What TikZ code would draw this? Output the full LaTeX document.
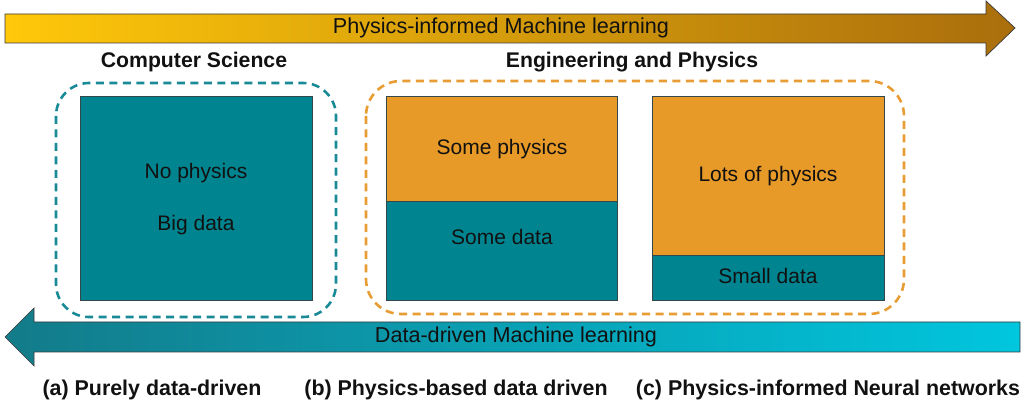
\documentclass[tikz,border=0pt]{standalone}
\usepackage{fontspec}
\setmainfont{Liberation Sans}
\usetikzlibrary{positioning}
\definecolor{tealfill}{HTML}{008590}
\definecolor{orangefill}{HTML}{E89A28}
\definecolor{tealline}{HTML}{1A8A96}
\definecolor{orangeline}{HTML}{E89C34}
\definecolor{boxedge}{HTML}{34484A}
\definecolor{arrowedge}{HTML}{3A3A3A}
\definecolor{goldL}{HTML}{FFC80A}
\definecolor{goldM}{HTML}{F7AC00}
\definecolor{goldR}{HTML}{AA6E0C}
\definecolor{cyanL}{HTML}{137B8A}
\definecolor{cyanM}{HTML}{09A3B6}
\definecolor{cyanR}{HTML}{00C6DE}
\definecolor{txt}{HTML}{111111}
\tikzset{
  tealbox/.style={draw=boxedge, line width=0.8pt, fill=tealfill, inner sep=0pt, anchor=north west},
  orangebox/.style={draw=boxedge, line width=0.8pt, fill=orangefill, inner sep=0pt, anchor=north west},
  boxtext/.style={text=txt, font=\fontsize{21}{25}\selectfont, inner sep=0pt},
  arrowtext/.style={text=txt, font=\fontsize{21.6}{25}\selectfont, inner sep=0pt},
  headtext/.style={text=txt, font=\bfseries\fontsize{21.2}{25}\selectfont, inner sep=0pt},
  captext/.style={text=txt, font=\bfseries\fontsize{21.4}{25}\selectfont, inner sep=0pt},
  tealdash/.style={draw=tealline, line width=2.6pt, dash pattern=on 8pt off 5.5pt, rounded corners=33pt},
  orangedash/.style={draw=orangeline, line width=2.6pt, dash pattern=on 8pt off 5.5pt, rounded corners=35pt},
}
\begin{document}
\begin{tikzpicture}[x=1pt,y=-1pt]
\useasboundingbox (0,0) rectangle (1023,403);
% top arrow
\path[draw=arrowedge, line width=0.7pt, left color=goldL, middle color=goldM, right color=goldR]
  (5,14) -- (986,14) -- (986,1) -- (1015,28) -- (986,56) -- (986,43) -- (5,43) -- cycle;
\node[arrowtext] (toptxt) at (501,28) {Physics-informed Machine learning};
% bottom arrow
\path[draw=arrowedge, line width=0.7pt, left color=cyanL, middle color=cyanM, right color=cyanR]
  (1020,322) -- (34,322) -- (34,308) -- (5,337) -- (34,366) -- (34,352) -- (1020,352) -- cycle;
\node[arrowtext] (bottxt) at (516,337) {Data-driven Machine learning};
% headings
\node[headtext] (cs) at (194,62) {Computer Science};
\node[headtext] (ep) at (632,62) {Engineering and Physics};
% dashed groups
\draw[tealdash] (56,83) rectangle (336,317);
\draw[orangedash] (366,81) rectangle (904,314);
% box a
\node[tealbox, minimum width=232pt, minimum height=204pt] (A) at (80,96) {};
\node[boxtext] (a1) at (196,173) {No physics};
\node[boxtext] (a2) at (196,225) {Big data};
% box b
\node[orangebox, minimum width=231pt, minimum height=105pt] (B1) at (386,96) {};
\node[tealbox, minimum width=231pt, minimum height=99pt] (B2) at (386,201) {};
\node[boxtext] (b1) at (502,149) {Some physics};
\node[boxtext] (b2) at (502,237) {Some data};
% box c
\node[orangebox, minimum width=232pt, minimum height=159pt] (C1) at (652,96) {};
\node[tealbox, minimum width=232pt, minimum height=45pt] (C2) at (652,255) {};
\node[boxtext] (c1) at (768,176) {Lots of physics};
\node[boxtext] (c2) at (768,276) {Small data};
% captions
\node[captext] (capa) at (152,390) {(a) Purely data-driven};
\node[captext] (capb) at (456,390) {(b) Physics-based data driven};
\node[captext] (capc) at (828,390) {(c) Physics-informed Neural networks};
\end{tikzpicture}
\end{document}
